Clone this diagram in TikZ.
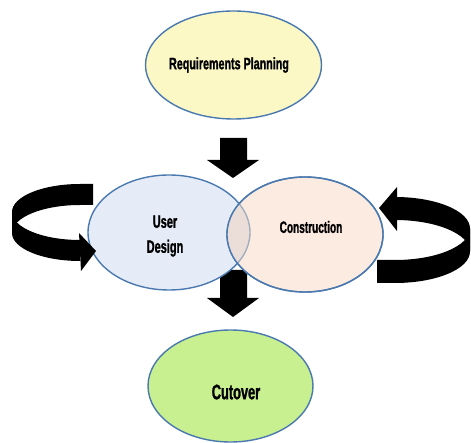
\documentclass[tikz,border=0pt]{standalone}
\usepackage{fontspec}
\newfontfamily\nar{Liberation Sans}[FakeStretch=0.61, FakeBold=1.2]
\newfontfamily\narw{Liberation Sans}[FakeStretch=0.65, FakeBold=1.2]
\usetikzlibrary{shapes.geometric}
\definecolor{edgeblue}{HTML}{4A79B0}
\definecolor{rpfill}{HTML}{FBF8C6}
\definecolor{udfill}{HTML}{E6ECF7}
\definecolor{cofill}{HTML}{FCEBE0}
\definecolor{ovfill}{HTML}{EBDDD7}
\definecolor{ovedge}{HTML}{A3AFC0}
\definecolor{cufill}{HTML}{C8EF90}
\tikzset{
  phase/.style={ellipse, draw=edgeblue, line width=1.4pt, inner sep=0pt},
  lbl/.style={font=\nar\bfseries, text=black, align=center, inner sep=0pt},
  blockarrow/.style={fill=black, draw=none},
}
\begin{document}
\begin{tikzpicture}[x=1pt, y=-1pt]
\useasboundingbox (0,0) rectangle (471,443);
% down arrow 2 (behind ellipses)
\fill[blockarrow] (220,270) -- (247,270) -- (247,298) -- (259,298) -- (233,317) -- (207,298) -- (220,298) -- cycle;
% nodes
\node[phase, fill=rpfill, minimum width=176pt, minimum height=108pt] (rp) at (233.5,65) {};
\node[phase, fill=udfill, minimum width=162pt, minimum height=115pt] (ud) at (169,232.5) {};
\node[phase, fill=cofill, minimum width=156pt, minimum height=115pt] (co) at (305,234.5) {};
\begin{scope}
  \clip (co.center) ellipse[x radius=78, y radius=57.5];
  \fill[ovfill] (ud.center) ellipse[x radius=81, y radius=57.5];
  \draw[ovedge, line width=1.4pt] (ud.center) ellipse[x radius=81, y radius=57.5];
\end{scope}
\draw[edgeblue, line width=1.4pt] (co.center) ellipse[x radius=78, y radius=57.5];
\node[phase, fill=cufill, minimum width=165pt, minimum height=112pt] (cu) at (230.5,386) {};
% labels
\node[lbl, font=\narw\bfseries\fontsize{16.5}{19}\selectfont] (rpt) at (229,65) {Requirements Planning};
\node[lbl, font=\nar\bfseries\fontsize{18}{25}\selectfont] (udt) at (165,236) {User\\Design};
\node[lbl, font=\nar\bfseries\fontsize{16.5}{19}\selectfont] (cot) at (311,227) {Construction};
\node[lbl, font=\nar\bfseries\fontsize{21}{24}\selectfont] (cut) at (236,392) {Cutover};
% down arrow 1
\fill[blockarrow] (220,138) -- (247,138) -- (247,160) -- (259,160) -- (233,178) -- (207,160) -- (220,160) -- cycle;
% left looping arrow
\fill[blockarrow] (93,184) -- (80,184) arc[start angle=-90, end angle=-180, x radius=68, y radius=28]
  -- (12,233) arc[start angle=-180, end angle=-90, x radius=68, y radius=28] -- (93,205) -- cycle;
\fill[blockarrow] (12,212) arc[start angle=180, end angle=90, x radius=68, y radius=28]
  -- (80,261) arc[start angle=90, end angle=180, x radius=68, y radius=28] -- cycle;
\fill[blockarrow] (79,233) -- (96,251) -- (81,271) -- cycle;
% right looping arrow
\fill[blockarrow] (395,197) arc[start angle=-90, end angle=0, x radius=75, y radius=31.5]
  -- (470,251.5) arc[start angle=0, end angle=-90, x radius=75, y radius=31.5] -- cycle;
\fill[blockarrow] (470,228.5) arc[start angle=0, end angle=90, x radius=75, y radius=31.5]
  -- (377,260) -- (377,283) -- (395,283) arc[start angle=90, end angle=0, x radius=75, y radius=31.5] -- cycle;
\fill[blockarrow] (397,187) -- (379,208) -- (397,231) -- cycle;
\end{tikzpicture}
\end{document}
